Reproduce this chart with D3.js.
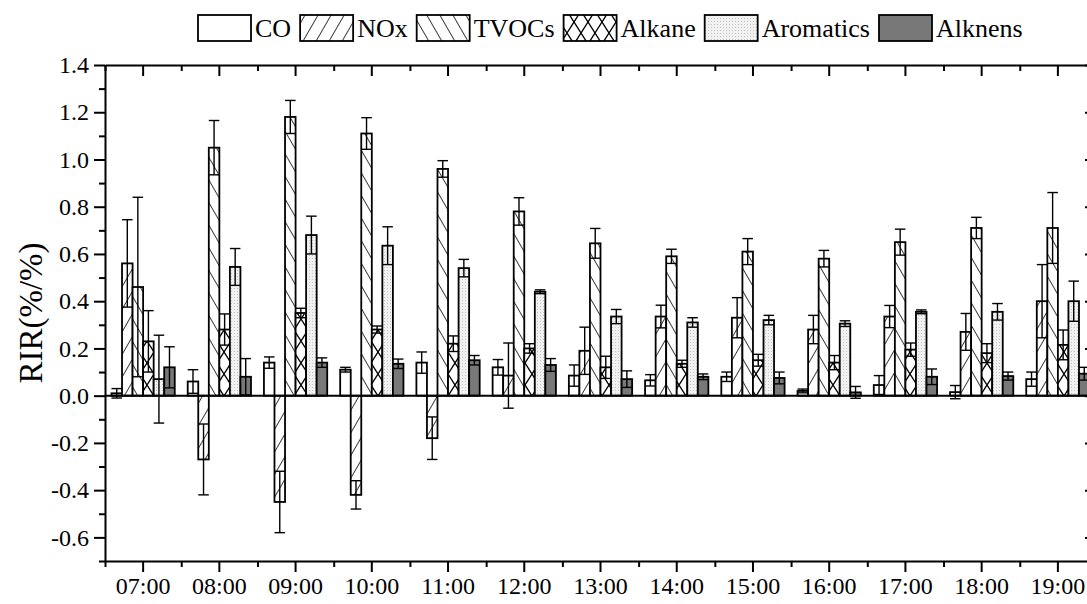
<!DOCTYPE html>
<html>
<head>
<meta charset="utf-8">
<script src="https://cdn.jsdelivr.net/npm/d3@7"></script>
<style>
  body { margin: 0; background: #fff; }
  text { font-family: "Liberation Serif", "Times New Roman", serif; fill: #000; }
</style>
</head>
<body>
<div id="chart"></div>
<script>
// categories and series
var hours = ["07:00","08:00","09:00","10:00","11:00","12:00","13:00","14:00","15:00","16:00","17:00","18:00","19:00"];
var seriesNames = ["CO","NOx","TVOCs","Alkane","Aromatics","Alknens"];

// values (mean RIR and error)
var coVals    = [0.01, 0.06, 0.14, 0.11, 0.14, 0.12, 0.085, 0.065, 0.08, 0.02, 0.045, 0.015, 0.07];
var coErr     = [0.02, 0.05, 0.024, 0.01, 0.045, 0.033, 0.045, 0.024, 0.02, 0.008, 0.04, 0.028, 0.03];
var noxVals   = [0.56, -0.27, -0.45, -0.42, -0.18, 0.085, 0.19, 0.335, 0.33, 0.28, 0.335, 0.27, 0.40];
var noxErr    = [0.185, 0.15, 0.13, 0.06, 0.09, 0.138, 0.1, 0.048, 0.085, 0.06, 0.047, 0.078, 0.155];
var tvocVals  = [0.46, 1.05, 1.18, 1.11, 0.96, 0.78, 0.645, 0.59, 0.61, 0.58, 0.65, 0.71, 0.71];
var tvocErr   = [0.38, 0.115, 0.07, 0.067, 0.035, 0.058, 0.063, 0.03, 0.055, 0.035, 0.055, 0.045, 0.15];
var alkVals   = [0.23, 0.28, 0.35, 0.28, 0.22, 0.2, 0.12, 0.135, 0.15, 0.14, 0.195, 0.18, 0.215];
var alkErr    = [0.13, 0.066, 0.02, 0.015, 0.033, 0.02, 0.047, 0.015, 0.025, 0.03, 0.028, 0.04, 0.063];
var aroVals   = [0.07, 0.545, 0.68, 0.635, 0.54, 0.44, 0.335, 0.31, 0.32, 0.305, 0.355, 0.355, 0.40];
var aroErr    = [0.186, 0.078, 0.08, 0.08, 0.037, 0.008, 0.03, 0.02, 0.02, 0.012, 0.008, 0.035, 0.085];
var alknVals  = [0.12, 0.08, 0.14, 0.135, 0.15, 0.13, 0.07, 0.08, 0.075, 0.014, 0.08, 0.083, 0.093];
var alknErr   = [0.087, 0.077, 0.02, 0.02, 0.02, 0.027, 0.035, 0.012, 0.025, 0.025, 0.033, 0.017, 0.027];

var yMajor = [-0.6,-0.4,-0.2,0.0,0.2,0.4,0.6,0.8,1.0,1.2,1.4];
var yMinor = [-0.7,-0.5,-0.3,-0.1,0.1,0.3,0.5,0.7,0.9,1.1,1.3];

var allVals = [coVals, noxVals, tvocVals, alkVals, aroVals, alknVals];
var allErr  = [coErr, noxErr, tvocErr, alkErr, aroErr, alknErr];
var fills = ["#fff", "url(#hatchF)", "url(#hatchB)", "url(#hatchX)", "url(#dots)", "#787878"];

var width = 1087, height = 604;
// plot frame (the right edge sits just past the window, as in the reference)
var mLeft = 105, mRight = 1096, mTop = 65, mBottom = 561;

var svg = d3.select("#chart").append("svg")
  .attr("width", width).attr("height", height);

// fill patterns
var defs = svg.append("defs");
function linePattern(id, angle) {
  var p = defs.append("pattern").attr("id", id)
    .attr("patternUnits", "userSpaceOnUse")
    .attr("width", 11.3).attr("height", 11.3)
    .attr("patternTransform", "rotate(" + angle + ")");
  p.append("rect").attr("width", 11.3).attr("height", 11.3).attr("fill", "#fff");
  p.append("line").attr("x1", 0).attr("y1", -1).attr("x2", 0).attr("y2", 12.3)
    .attr("stroke", "#000").attr("stroke-width", 1.5);
}
linePattern("hatchF", 30);
linePattern("hatchB", -30);
var px = defs.append("pattern").attr("id", "hatchX")
  .attr("patternUnits", "userSpaceOnUse").attr("width", 14).attr("height", 22);
px.append("rect").attr("width", 14).attr("height", 22).attr("fill", "#fff");
px.append("path").attr("d", "M0,0L14,22M14,0L0,22").attr("stroke", "#000").attr("stroke-width", 1.3);
var pd = defs.append("pattern").attr("id", "dots")
  .attr("patternUnits", "userSpaceOnUse").attr("width", 3).attr("height", 3);
pd.append("rect").attr("width", 3).attr("height", 3).attr("fill", "#f1f1f1");
pd.append("rect").attr("width", 1).attr("height", 1).attr("fill", "#c4c4c4");

// scales
var x = d3.scaleBand().domain(hours).range([mLeft, mRight])
  .paddingInner(0.17).paddingOuter(0.085);
var xs = d3.scaleBand().domain(seriesNames).range([0, x.bandwidth()]);
var xl = d3.scaleLinear().domain([0, hours.length]).range([mLeft, mRight]);
var y = d3.scaleLinear().domain([-0.7, 1.4]).range([mBottom, mTop]);

// rows for bars
var rows = [];
seriesNames.forEach(function(s, si) {
  hours.forEach(function(h, hi) {
    rows.push({hour: h, series: s, si: si, v: allVals[si][hi], e: allErr[si][hi]});
  });
});

var bars = svg.append("g");
bars.selectAll("rect").data(rows).enter().append("rect")
  .attr("x", d => x(d.hour) + xs(d.series))
  .attr("y", d => y(Math.max(0, d.v)))
  .attr("width", xs.bandwidth())
  .attr("height", d => Math.abs(y(d.v) - y(0)))
  .attr("fill", d => fills[d.si])
  .attr("stroke", "#000").attr("stroke-width", 1.8);

// error bars
var eb = svg.append("g").attr("stroke", "#000").attr("stroke-width", 1.4);
var capW = xs.bandwidth();
rows.forEach(function(d) {
  var cx = x(d.hour) + xs(d.series) + xs.bandwidth() / 2;
  eb.append("line").attr("x1", cx).attr("x2", cx)
    .attr("y1", y(d.v - d.e)).attr("y2", y(d.v + d.e));
  [d.v - d.e, d.v + d.e].forEach(function(t) {
    eb.append("line").attr("x1", cx - capW / 2).attr("x2", cx + capW / 2)
      .attr("y1", y(t)).attr("y2", y(t));
  });
});

// zero line
svg.append("line").attr("x1", mLeft).attr("x2", mRight)
  .attr("y1", y(0)).attr("y2", y(0))
  .attr("stroke", "#000").attr("stroke-width", 2);

// axes
function styleAxis(g) {
  g.selectAll("path.domain").attr("stroke-width", 2);
  g.selectAll(".tick line").attr("stroke-width", 2);
  g.selectAll("text").style("font-size", "24px").attr("font-family", null);
}
var fmt = d => d.toFixed(1);   // plain hyphen for negatives

svg.append("g").attr("transform", "translate(0," + mBottom + ")")
  .call(d3.axisBottom(x).tickSize(11).tickSizeOuter(0).tickPadding(5))
  .call(styleAxis);
svg.append("g").attr("transform", "translate(0," + mBottom + ")")
  .call(d3.axisBottom(xl).tickValues(d3.range(0, hours.length + 1)).tickSize(6).tickFormat(""))
  .call(styleAxis).select(".domain").remove();

svg.append("g").attr("transform", "translate(0," + mTop + ")")
  .call(d3.axisTop(x).tickSize(-11).tickSizeOuter(0).tickFormat(""))
  .call(styleAxis);
svg.append("g").attr("transform", "translate(0," + mTop + ")")
  .call(d3.axisTop(xl).tickValues(d3.range(0, hours.length + 1)).tickSize(-6).tickFormat(""))
  .call(styleAxis).select(".domain").remove();

svg.append("g").attr("transform", "translate(" + mLeft + ",0)")
  .call(d3.axisLeft(y).tickValues(yMajor).tickFormat(fmt).tickSize(11).tickSizeOuter(0).tickPadding(5))
  .call(styleAxis);
svg.append("g").attr("transform", "translate(" + mLeft + ",0)")
  .call(d3.axisLeft(y).tickValues(yMinor).tickSize(6).tickFormat(""))
  .call(styleAxis).select(".domain").remove();

svg.append("g").attr("transform", "translate(" + mRight + ",0)")
  .call(d3.axisRight(y).tickValues(yMajor).tickSize(-11).tickSizeOuter(0).tickFormat(""))
  .call(styleAxis);

// y title
svg.append("text")
  .attr("transform", "translate(42," + y(0.35) + ") rotate(-90)")
  .attr("text-anchor", "middle")
  .style("font-size", "33px")
  .text("RIR(%/%)");

// legend
var lg = svg.append("g");
var lx = 198;
seriesNames.forEach(function(s, si) {
  lg.append("rect").attr("x", lx).attr("y", 15).attr("width", 53).attr("height", 26)
    .attr("fill", fills[si]).attr("stroke", "#000").attr("stroke-width", 1.8);
  var t = lg.append("text").attr("x", lx + 57).attr("y", 37)
    .style("font-size", "26px").text(s);
  lx += 57 + t.node().getComputedTextLength() + 9;
});
</script>
</body>
</html>
